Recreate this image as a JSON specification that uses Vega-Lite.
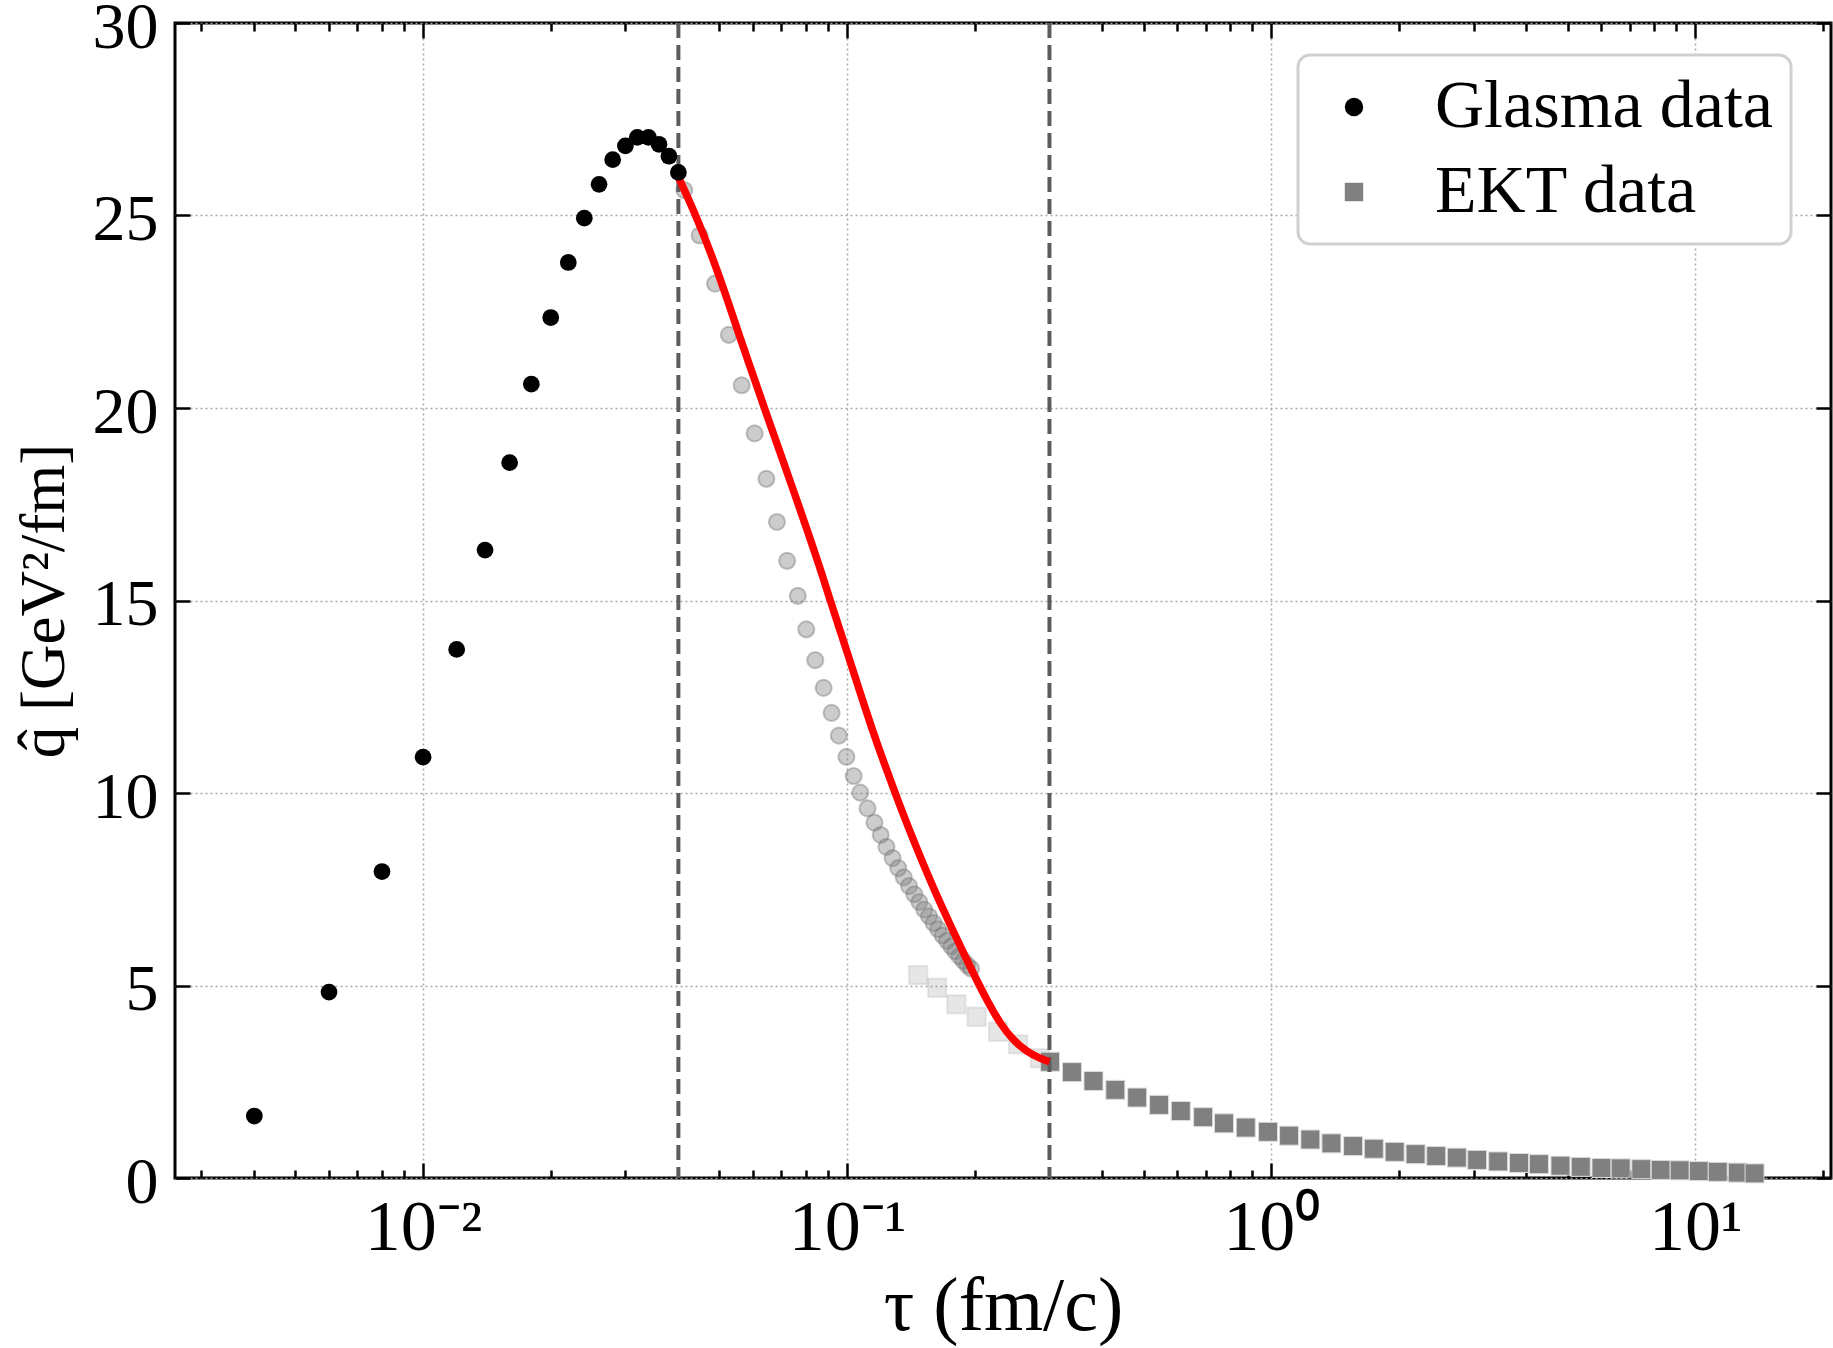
{
  "$schema": "https://vega.github.io/schema/vega-lite/v6.json",
  "width": 1656,
  "height": 1155,
  "autosize": {"type": "none"},
  "padding": {"left": 175, "top": 23, "right": 2, "bottom": 170},
  "background": "white",
  "config": {
    "view": {"stroke": "black", "strokeWidth": 3},
    "axis": {
      "labelFont": "Liberation Serif", "labelFontSize": 66, "labelColor": "black",
      "titleFont": "Liberation Serif", "titleFontSize": 72, "titleFontWeight": "normal", "titleColor": "black",
      "domain": false, "tickColor": "black", "tickWidth": 2.5,
      "gridColor": "#a8a8a8", "gridDash": [2, 3], "gridWidth": 1.5,
      "labelPadding": 18, "labelFlush": false, "labelOverlap": false
    },
    "legend": {
      "labelFont": "Liberation Serif", "labelFontSize": 68, "labelColor": "black", "labelLimit": 0,
      "fillColor": "white", "strokeColor": "#d0d0d0", "strokeWidth": 3, "cornerRadius": 12,
      "padding": 18, "symbolOffset": 4, "labelOffset": 47, "rowPadding": 17, "symbolSize": 340,
      "symbolStrokeWidth": 0
    }
  },
  "datasets": {
    "glasma": [
      {"tau": 0.004, "q": 1.61}, {"tau": 0.006, "q": 4.83}, {"tau": 0.008, "q": 7.96}, {"tau": 0.010, "q": 10.93},
      {"tau": 0.012, "q": 13.73}, {"tau": 0.014, "q": 16.31}, {"tau": 0.016, "q": 18.58}, {"tau": 0.018, "q": 20.62},
      {"tau": 0.020, "q": 22.35}, {"tau": 0.022, "q": 23.78}, {"tau": 0.024, "q": 24.93}, {"tau": 0.026, "q": 25.81},
      {"tau": 0.028, "q": 26.45}, {"tau": 0.030, "q": 26.81}, {"tau": 0.032, "q": 27.03}, {"tau": 0.034, "q": 27.03},
      {"tau": 0.036, "q": 26.85}, {"tau": 0.038, "q": 26.54}, {"tau": 0.040, "q": 26.12}
    ],
    "ektcircles": [
      {"tau": 0.0413, "q": 25.66}, {"tau": 0.0449, "q": 24.48}, {"tau": 0.0488, "q": 23.23}, {"tau": 0.0526, "q": 21.90},
      {"tau": 0.0564, "q": 20.59}, {"tau": 0.0605, "q": 19.34}, {"tau": 0.0645, "q": 18.16}, {"tau": 0.0683, "q": 17.04},
      {"tau": 0.0722, "q": 16.03}, {"tau": 0.0765, "q": 15.12}, {"tau": 0.0801, "q": 14.25}, {"tau": 0.0841, "q": 13.45},
      {"tau": 0.0880, "q": 12.73}, {"tau": 0.0919, "q": 12.08}, {"tau": 0.0956, "q": 11.49}, {"tau": 0.0996, "q": 10.94},
      {"tau": 0.1036, "q": 10.44}, {"tau": 0.1074, "q": 10.01}, {"tau": 0.1117, "q": 9.60}, {"tau": 0.1160, "q": 9.23},
      {"tau": 0.1200, "q": 8.91}, {"tau": 0.1238, "q": 8.60}, {"tau": 0.128, "q": 8.31}, {"tau": 0.132, "q": 8.05},
      {"tau": 0.136, "q": 7.81}, {"tau": 0.140, "q": 7.58}, {"tau": 0.144, "q": 7.37}, {"tau": 0.148, "q": 7.17},
      {"tau": 0.152, "q": 6.97}, {"tau": 0.156, "q": 6.80}, {"tau": 0.160, "q": 6.62}, {"tau": 0.164, "q": 6.46},
      {"tau": 0.168, "q": 6.30}, {"tau": 0.172, "q": 6.16}, {"tau": 0.176, "q": 6.02}, {"tau": 0.180, "q": 5.89},
      {"tau": 0.184, "q": 5.76}, {"tau": 0.188, "q": 5.64}, {"tau": 0.192, "q": 5.53}, {"tau": 0.196, "q": 5.44}
    ],
    "ektlight": [
      {"tau": 0.147, "q": 5.27}, {"tau": 0.163, "q": 4.94}, {"tau": 0.181, "q": 4.51}, {"tau": 0.202, "q": 4.19},
      {"tau": 0.227, "q": 3.80}, {"tau": 0.253, "q": 3.47}, {"tau": 0.285, "q": 3.11}
    ],
    "ektdark": [
      {"tau": 0.301, "q": 3.02, "series": "EKT data"}, {"tau": 0.339, "q": 2.75, "series": "EKT data"},
      {"tau": 0.381, "q": 2.52, "series": "EKT data"}, {"tau": 0.429, "q": 2.29, "series": "EKT data"},
      {"tau": 0.483, "q": 2.09, "series": "EKT data"}, {"tau": 0.544, "q": 1.90, "series": "EKT data"},
      {"tau": 0.612, "q": 1.74, "series": "EKT data"}, {"tau": 0.691, "q": 1.58, "series": "EKT data"},
      {"tau": 0.774, "q": 1.42, "series": "EKT data"}, {"tau": 0.871, "q": 1.31, "series": "EKT data"},
      {"tau": 0.983, "q": 1.20, "series": "EKT data"}, {"tau": 1.102, "q": 1.10, "series": "EKT data"},
      {"tau": 1.237, "q": 1.00, "series": "EKT data"}, {"tau": 1.387, "q": 0.90, "series": "EKT data"},
      {"tau": 1.560, "q": 0.83, "series": "EKT data"}, {"tau": 1.746, "q": 0.76, "series": "EKT data"},
      {"tau": 1.955, "q": 0.68, "series": "EKT data"}, {"tau": 2.19, "q": 0.62, "series": "EKT data"},
      {"tau": 2.45, "q": 0.57, "series": "EKT data"}, {"tau": 2.74, "q": 0.53, "series": "EKT data"},
      {"tau": 3.06, "q": 0.47, "series": "EKT data"}, {"tau": 3.43, "q": 0.43, "series": "EKT data"},
      {"tau": 3.84, "q": 0.39, "series": "EKT data"}, {"tau": 4.28, "q": 0.36, "series": "EKT data"},
      {"tau": 4.81, "q": 0.32, "series": "EKT data"}, {"tau": 5.37, "q": 0.29, "series": "EKT data"},
      {"tau": 6.01, "q": 0.26, "series": "EKT data"}, {"tau": 6.67, "q": 0.25, "series": "EKT data"},
      {"tau": 7.46, "q": 0.23, "series": "EKT data"}, {"tau": 8.29, "q": 0.21, "series": "EKT data"},
      {"tau": 9.19, "q": 0.20, "series": "EKT data"}, {"tau": 10.2, "q": 0.18, "series": "EKT data"},
      {"tau": 11.3, "q": 0.16, "series": "EKT data"}, {"tau": 12.6, "q": 0.14, "series": "EKT data"},
      {"tau": 13.8, "q": 0.12, "series": "EKT data"}
    ],
    "fit": [
      {"tau": 0.0400, "q": 26.0}, {"tau": 0.0440, "q": 25.0}, {"tau": 0.0480, "q": 23.95}, {"tau": 0.0519, "q": 22.9},
      {"tau": 0.0560, "q": 21.8}, {"tau": 0.0600, "q": 20.85}, {"tau": 0.0645, "q": 19.85}, {"tau": 0.0700, "q": 18.75},
      {"tau": 0.0750, "q": 17.8}, {"tau": 0.0801, "q": 16.9}, {"tau": 0.0860, "q": 15.9}, {"tau": 0.0909, "q": 15.05},
      {"tau": 0.1004, "q": 13.6}, {"tau": 0.1070, "q": 12.65}, {"tau": 0.114, "q": 11.72}, {"tau": 0.122, "q": 10.8},
      {"tau": 0.1306, "q": 9.92}, {"tau": 0.140, "q": 9.05}, {"tau": 0.151, "q": 8.17}, {"tau": 0.162, "q": 7.38},
      {"tau": 0.1746, "q": 6.6}, {"tau": 0.188, "q": 5.85}, {"tau": 0.2018, "q": 5.15}, {"tau": 0.215, "q": 4.56},
      {"tau": 0.229, "q": 4.03}, {"tau": 0.247, "q": 3.56}, {"tau": 0.265, "q": 3.29}, {"tau": 0.285, "q": 3.10},
      {"tau": 0.300, "q": 3.02}
    ],
    "vlines": [{"tau": 0.04}, {"tau": 0.3}]
  },
  "resolve": {"axis": {"x": "independent", "y": "independent"}},
  "layer": [
    {
      "data": {"name": "ektcircles"},
      "mark": {"type": "point", "shape": "circle", "filled": true, "size": 260, "fill": "#808080", "fillOpacity": 0.4, "stroke": "#707070", "strokeOpacity": 0.4, "strokeWidth": 2},
      "encoding": {
        "x": {"field": "tau", "type": "quantitative", "scale": {"type": "log", "domain": [0.0026, 20.9], "nice": false},
          "axis": {"orient": "bottom", "values": [0.01, 0.1, 1, 10], "ticks": false, "grid": true, "labelFontSize": 72, "labelPadding": 14,
            "labelExpr": "datum.value < 0.05 ? '10⁻²' : datum.value < 0.5 ? '10⁻¹' : datum.value < 5 ? '10⁰' : '10¹'",
            "title": "τ (fm/c)", "titleFontSize": 76, "titlePadding": 6}},
        "y": {"field": "q", "type": "quantitative", "scale": {"domain": [0, 30], "nice": false, "zero": false},
          "axis": {"orient": "left", "values": [0, 5, 10, 15, 20, 25, 30], "ticks": false, "grid": true,
            "labelPadding": 17, "labelOffset": 4, "title": "q̂ [GeV²/fm]", "titleFontSize": 63, "titlePadding": 16}}
      }
    },
    {
      "data": {"name": "ektlight"},
      "mark": {"type": "point", "shape": "square", "filled": true, "size": 340, "fill": "#808080", "fillOpacity": 0.2, "stroke": "#808080", "strokeOpacity": 0.15, "strokeWidth": 2},
      "encoding": {
        "x": {"field": "tau", "type": "quantitative", "scale": {"type": "log", "domain": [0.0026, 20.9], "nice": false},
          "axis": {"orient": "bottom", "values": [0.01, 0.1, 1, 10], "labels": false, "grid": false, "tickSize": -15, "title": null}},
        "y": {"field": "q", "type": "quantitative", "scale": {"domain": [0, 30], "nice": false, "zero": false},
          "axis": {"orient": "left", "values": [0, 5, 10, 15, 20, 25, 30], "labels": false, "grid": false, "tickSize": -15, "title": null}}
      }
    },
    {
      "data": {"name": "ektdark"},
      "mark": {"type": "point", "filled": true, "size": 361, "opacity": 1, "stroke": "#dcdcdc", "strokeWidth": 1},
      "encoding": {
        "x": {"field": "tau", "type": "quantitative", "scale": {"type": "log", "domain": [0.0026, 20.9], "nice": false},
          "axis": {"orient": "top", "values": [0.01, 0.1, 1, 10], "labels": false, "grid": false, "tickSize": -15, "title": null}},
        "y": {"field": "q", "type": "quantitative", "scale": {"domain": [0, 30], "nice": false, "zero": false},
          "axis": {"orient": "right", "values": [0, 5, 10, 15, 20, 25, 30], "labels": false, "grid": false, "tickSize": -15, "title": null}},
        "color": {"field": "series", "type": "nominal",
          "scale": {"domain": ["Glasma data", "EKT data"], "range": ["#000000", "#808080"]},
          "legend": {"orient": "none", "legendX": 1123, "legendY": 32, "title": null}},
        "shape": {"field": "series", "type": "nominal",
          "scale": {"domain": ["Glasma data", "EKT data"], "range": ["circle", "square"]},
          "legend": {"orient": "none", "legendX": 1123, "legendY": 32, "title": null}}
      }
    },
    {
      "data": {"name": "vlines"},
      "mark": {"type": "rule", "color": "#5c5c5c", "strokeWidth": 4, "strokeDash": [15, 7]},
      "encoding": {
        "x": {"field": "tau", "type": "quantitative", "scale": {"type": "log", "domain": [0.0026, 20.9], "nice": false},
          "axis": {"orient": "bottom", "values": [0.003, 0.004, 0.005, 0.006, 0.007, 0.008, 0.009, 0.02, 0.03, 0.04, 0.05, 0.06, 0.07, 0.08, 0.09, 0.2, 0.3, 0.4, 0.5, 0.6, 0.7, 0.8, 0.9, 2, 3, 4, 5, 6, 7, 8, 9, 20],
            "labels": false, "grid": false, "tickSize": -8, "title": null}}
      }
    },
    {
      "data": {"name": "fit"},
      "mark": {"type": "line", "color": "#ff0000", "strokeWidth": 7.5, "interpolate": "basis"},
      "encoding": {
        "x": {"field": "tau", "type": "quantitative", "scale": {"type": "log", "domain": [0.0026, 20.9], "nice": false},
          "axis": {"orient": "top", "values": [0.003, 0.004, 0.005, 0.006, 0.007, 0.008, 0.009, 0.02, 0.03, 0.04, 0.05, 0.06, 0.07, 0.08, 0.09, 0.2, 0.3, 0.4, 0.5, 0.6, 0.7, 0.8, 0.9, 2, 3, 4, 5, 6, 7, 8, 9, 20],
            "labels": false, "grid": false, "tickSize": -8, "title": null}},
        "y": {"field": "q", "type": "quantitative", "scale": {"domain": [0, 30], "nice": false, "zero": false}, "axis": null}
      }
    },
    {
      "data": {"name": "glasma"},
      "transform": [{"calculate": "'Glasma data'", "as": "series"}],
      "mark": {"type": "point", "filled": true, "size": 280, "opacity": 1},
      "encoding": {
        "x": {"field": "tau", "type": "quantitative", "scale": {"type": "log", "domain": [0.0026, 20.9], "nice": false}, "axis": null},
        "y": {"field": "q", "type": "quantitative", "scale": {"domain": [0, 30], "nice": false, "zero": false}, "axis": null},
        "color": {"field": "series", "type": "nominal",
          "scale": {"domain": ["Glasma data", "EKT data"], "range": ["#000000", "#808080"]},
          "legend": {"orient": "none", "legendX": 1123, "legendY": 32, "title": null}},
        "shape": {"field": "series", "type": "nominal",
          "scale": {"domain": ["Glasma data", "EKT data"], "range": ["circle", "square"]},
          "legend": {"orient": "none", "legendX": 1123, "legendY": 32, "title": null}}
      }
    }
  ]
}
